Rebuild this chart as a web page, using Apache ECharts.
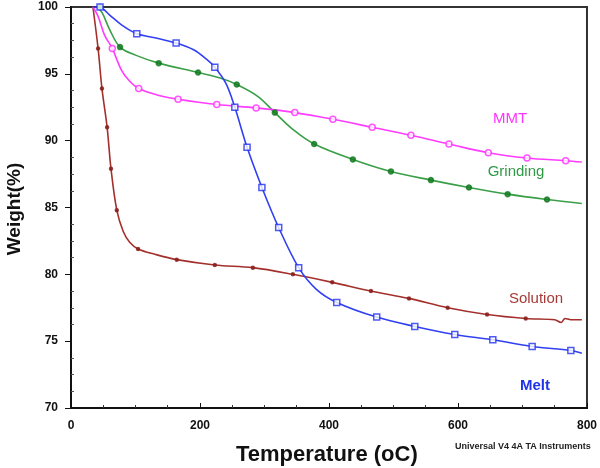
<!DOCTYPE html>
<html>
<head>
<meta charset="utf-8">
<script src="https://cdn.jsdelivr.net/npm/echarts@6/dist/echarts.min.js"></script>
<style>
  html, body { margin: 0; padding: 0; background: #fff; }
  #main { width: 600px; height: 468px; }
</style>
</head>
<body>
<div id="main"></div>
<script>
// 温度轴 / 重量轴
var xTicks = [0, 200, 400, 600, 800];
var yTicks = [70, 75, 80, 85, 90, 95, 100];

// 曲线数据 [温度, 重量%]
var mmtLine = [[34,100],[42,99.3],[52,97.9],[64,96.9],[78,95.3],[90,94.5],[105,93.9],[135,93.4],[166,93.1],[226,92.7],[287,92.45],[347,92.1],[406,91.6],[467,91.0],[527,90.4],[586,89.75],[647,89.1],[707,88.7],[767,88.5],[792,88.4]];
var mmtMarks = [[64,96.9],[105,93.9],[166,93.1],[226,92.7],[287,92.45],[347,92.1],[406,91.6],[467,91.0],[527,90.4],[586,89.75],[647,89.1],[707,88.7],[767,88.5]];

var grindLine = [[40,100],[48,99.6],[60,98.3],[76,97.0],[100,96.4],[136,95.8],[197,95.1],[230,94.7],[257,94.2],[290,93.3],[316,92.1],[345,90.8],[377,89.75],[437,88.6],[496,87.7],[558,87.05],[617,86.5],[677,86.0],[738,85.6],[792,85.3]];
var grindMarks = [[45,100],[76,97.0],[136,95.8],[197,95.1],[257,94.2],[316,92.1],[377,89.75],[437,88.6],[496,87.7],[558,87.05],[617,86.5],[677,86.0],[738,85.6]];

var solLine = [[34,100],[42,96.9],[48,93.9],[56,91.0],[62,87.9],[71,84.8],[81,83.2],[91,82.4],[104,81.9],[130,81.5],[164,81.1],[223,80.7],[282,80.5],[344,80.0],[405,79.4],[465,78.75],[524,78.2],[584,77.5],[645,77.0],[705,76.7],[750,76.6],[760,76.4],[766,76.7],[775,76.6],[792,76.6]];
var solMarks = [[42,96.9],[48,93.9],[56,91.0],[62,87.9],[71,84.8],[104,81.9],[164,81.1],[223,80.7],[282,80.5],[344,80.0],[405,79.4],[465,78.75],[524,78.2],[584,77.5],[645,77.0],[705,76.7]];

var meltLine = [[34,100],[48,99.9],[60,99.4],[80,98.6],[102,98.0],[130,97.7],[163,97.3],[190,96.8],[210,96.1],[223,95.5],[240,94.3],[254,92.5],[273,89.5],[296,86.5],[322,83.5],[353,80.5],[380,78.9],[412,77.9],[474,76.8],[533,76.1],[595,75.5],[654,75.1],[715,74.6],[775,74.3],[792,74.1]];
var meltMarks = [[45,100],[102,98.0],[163,97.3],[223,95.5],[254,92.5],[273,89.5],[296,86.5],[322,83.5],[353,80.5],[412,77.9],[474,76.8],[533,76.1],[595,75.5],[654,75.1],[715,74.6],[775,74.3]];

var axisFont = 'Liberation Sans, Arial, sans-serif';

function lineSeries(name, data, color) {
    return {
        name: name, type: 'line', data: data, smooth: 0.35,
        showSymbol: false, lineStyle: { color: color, width: 1.6 }, z: 3
    };
}
function markSeries(name, data, symbol, size, fill, border) {
    return {
        name: name, type: 'scatter', data: data, symbol: symbol, symbolSize: size,
        itemStyle: { color: fill, borderColor: border, borderWidth: 1.5 }, z: 4
    };
}

var option = {
    animation: false,
    backgroundColor: '#fff',
    grid: {
        left: 71, top: 7, right: 13, bottom: 60,
        show: true, borderColor: '#333', borderWidth: 2
    },
    xAxis: {
        type: 'value', min: 0, max: 800, interval: 200,
        axisLine: { lineStyle: { color: '#111', width: 2 } },
        axisTick: { inside: true, length: 5, lineStyle: { color: '#111' } },
        minorTick: { show: true, splitNumber: 4, length: 3, lineStyle: { color: '#333' } },
        splitLine: { show: false },
        axisLabel: { color: '#111', fontWeight: 'bold', fontSize: 12, fontFamily: axisFont, margin: 12,
            formatter: function (v) { return xTicks.indexOf(v) >= 0 ? String(v) : ''; } }
    },
    yAxis: {
        type: 'value', min: 70, max: 100, interval: 5,
        axisLine: { lineStyle: { color: '#111', width: 2 } },
        axisTick: { length: 6, lineStyle: { color: '#111' } },
        minorTick: { show: true, splitNumber: 4, length: -3, lineStyle: { color: '#555' } },
        splitLine: { show: false },
        axisLabel: { color: '#111', fontWeight: 'bold', fontSize: 12, fontFamily: axisFont, margin: 13,
            formatter: function (v) { return yTicks.indexOf(v) >= 0 ? String(v) : ''; } }
    },
    graphic: [
        { type: 'text', left: 236, top: 444, style: { text: 'Temperature (oC)', fill: '#111',
            font: 'bold 22px Liberation Sans, Arial, sans-serif' } },
        { type: 'text', x: 15, y: 209, rotation: Math.PI / 2, style: { text: 'Weight(%)', fill: '#111',
            font: 'bold 19px Liberation Sans, Arial, sans-serif', align: 'center', verticalAlign: 'middle' } },
        { type: 'text', left: 455, top: 442, style: { text: 'Universal V4 4A TA Instruments', fill: '#222',
            font: 'bold 9px Liberation Sans, Arial, sans-serif' } },
        { type: 'text', x: 510, y: 119, style: { text: 'MMT', fill: '#ff33ff', align: 'center', verticalAlign: 'middle',
            font: '15px Liberation Sans, Arial, sans-serif' } },
        { type: 'text', x: 516, y: 172, style: { text: 'Grinding', fill: '#2f9a45', align: 'center', verticalAlign: 'middle',
            font: '15px Liberation Sans, Arial, sans-serif' } },
        { type: 'text', x: 536, y: 299, style: { text: 'Solution', fill: '#a63a36', align: 'center', verticalAlign: 'middle',
            font: '15px Liberation Sans, Arial, sans-serif' } },
        { type: 'text', x: 535, y: 386, style: { text: 'Melt', fill: '#2033e8', align: 'center', verticalAlign: 'middle',
            font: 'bold 15px Liberation Sans, Arial, sans-serif' } }
    ],
    series: [
        lineSeries('Solution', solLine, '#a3302c'),
        lineSeries('Grinding', grindLine, '#3a9f48'),
        lineSeries('MMT', mmtLine, '#ff3cff'),
        lineSeries('Melt', meltLine, '#3040f2'),
        markSeries('Solution', solMarks, 'circle', 3, '#8a1f1c', '#8a1f1c'),
        markSeries('Grinding', grindMarks, 'circle', 5, '#137a22', '#137a22'),
        markSeries('MMT', mmtMarks, 'circle', 6, '#fff', '#ff2cff'),
        markSeries('Melt', meltMarks, 'rect', 6, '#fff', '#2030f0')
    ]
};

var myChart = echarts.init(document.getElementById('main'));
myChart.setOption(option);
</script>
</body>
</html>
